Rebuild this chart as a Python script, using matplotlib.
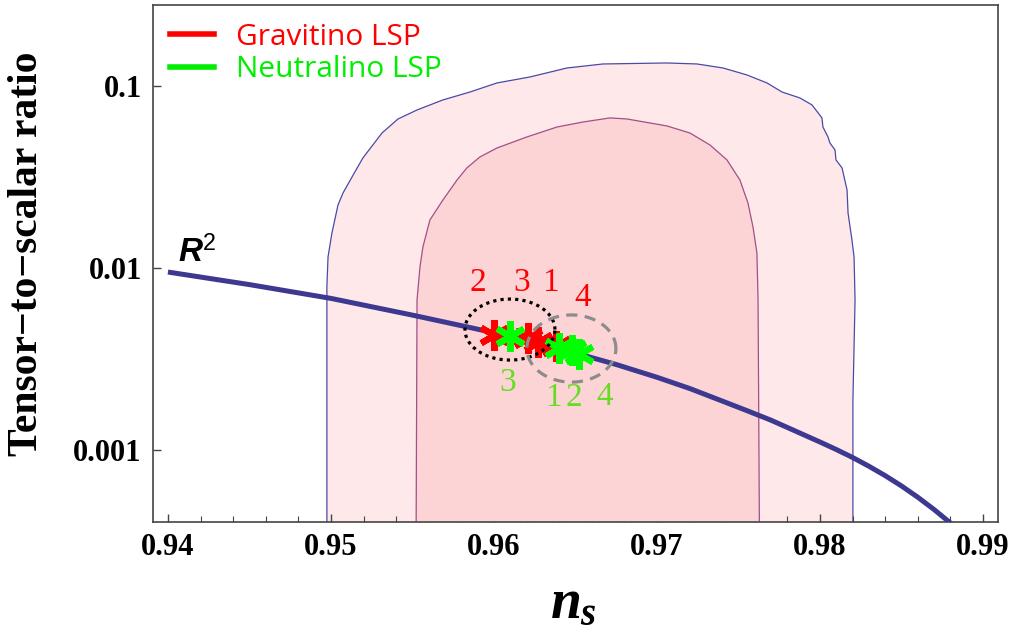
import numpy as np
import matplotlib.pyplot as plt
from matplotlib.lines import Line2D

# === DATI ===

# contorno esterno (95%)
outer_ns = [0.94975, 0.94975, 0.94982, 0.95006, 0.95043, 0.95074, 0.95129, 0.95196,
            0.95313, 0.95411, 0.95528, 0.95687, 0.95853, 0.96018, 0.96221, 0.96448,
            0.96669, 0.97061, 0.97245, 0.97405, 0.97552, 0.97675, 0.97767, 0.97877,
            0.97951, 0.98012, 0.98018, 0.98049, 0.98061, 0.98092, 0.98098, 0.98135,
            0.98166, 0.98172, 0.98196, 0.98209, 0.98215, 0.98202, 0.98202]
outer_r = [0.0001, 0.00786, 0.0115, 0.0156, 0.0222, 0.0259, 0.0317, 0.0404,
           0.0554, 0.0662, 0.0742, 0.0843, 0.0932, 0.1045, 0.1128, 0.1264,
           0.1330, 0.1347, 0.1330, 0.1264, 0.1157, 0.1045, 0.0932, 0.0864,
           0.0791, 0.0671, 0.0598, 0.0527, 0.0488, 0.0447, 0.0394, 0.0356,
           0.0269, 0.0201, 0.01427, 0.0115, 0.00666, 0.00187, 0.0001]

# contorno interno (68%)
inner_ns = [0.95520, 0.95528, 0.95546, 0.95564, 0.95607, 0.95687, 0.95773, 0.95834,
            0.95914, 0.96018, 0.96202, 0.96387, 0.96546, 0.96712, 0.96816, 0.97061,
            0.97202, 0.97325, 0.97429, 0.97509, 0.97558, 0.97589, 0.97613, 0.97620,
            0.97632]
inner_r = [0.0001, 0.00666, 0.01013, 0.01305, 0.01839, 0.0237, 0.0305, 0.0356,
           0.0409, 0.0458, 0.0527, 0.0598, 0.0637, 0.0671, 0.0662, 0.0606,
           0.0554, 0.0476, 0.0394, 0.0305, 0.0228, 0.01682, 0.0121, 0.00666,
           0.0001]

# curva R^2
r2_ns = [0.940, 0.945, 0.950, 0.955, 0.960, 0.965, 0.9675, 0.970, 0.972, 0.974,
         0.9755, 0.977, 0.980, 0.981, 0.982, 0.983, 0.984, 0.985, 0.986,
         0.987, 0.988, 0.989]
r2_r = [0.0095, 0.0081, 0.0068, 0.0055, 0.0044, 0.0034, 0.00294, 0.0025, 0.00217, 0.00185,
        0.00164, 0.00145, 0.00110, 0.00100, 0.000904, 0.000809, 0.000718, 0.000630, 0.000546,
        0.000467, 0.000394, 0.000327]

# punti: modelli 1..4
grav_ns = [0.9627, 0.9600, 0.9621, 0.9638]
grav_r = [0.00391, 0.00428, 0.00411, 0.00372]
neut_ns = [0.9640, 0.9648, 0.9610, 0.9652]
neut_r = [0.00362, 0.00353, 0.00422, 0.00336]

# etichette numeriche
num_labels = ['1', '2', '3', '4']
grav_lab_ns = [0.96344, 0.95902, 0.96172, 0.96546]
grav_lab_r = [0.00827, 0.00827, 0.00827, 0.00684]
neut_lab_ns = [0.96364, 0.96489, 0.96086, 0.96681]
neut_lab_r = [0.00192, 0.00192, 0.00232, 0.00195]

# ellissi: centro (ns, r), semiasse in ns, semiasse in decadi
ell_grav = (0.96098, 0.00458, 0.00276, 0.168)
ell_neut = (0.96475, 0.00360, 0.00273, 0.185)

# === FIGURA ===
plt.rcParams['mathtext.fontset'] = 'custom'
plt.rcParams['mathtext.it'] = 'Liberation Serif:italic:bold'
plt.rcParams['mathtext.rm'] = 'Liberation Sans'
plt.rcParams['mathtext.sf'] = 'Liberation Sans:italic:bold'

fig = plt.figure(figsize=(10.19, 6.32), dpi=100)
ax = fig.add_axes([0.1501, 0.1741, 0.8293, 0.818])

ax.fill(outer_ns, outer_r, facecolor='#fee8e9', edgecolor='#4a4aa8', lw=0.9, zorder=1)
ax.fill(inner_ns, inner_r, facecolor='#fdd4d6', edgecolor='#a0508a', lw=0.9, zorder=2)

ax.plot(r2_ns, r2_r, color='#3d3890', lw=3.6, solid_capstyle='butt', zorder=3)

ax.plot(grav_ns, grav_r, ls='none', marker=(6, 2, 0), ms=22, mew=4.5,
        color='#ff0000', zorder=4)
ax.plot(neut_ns, neut_r, ls='none', marker=(6, 2, 0), ms=22, mew=4.5,
        color='#00ff00', zorder=5)

t = np.linspace(0, 2 * np.pi, 300)
for (cx, cy, a, b), col, ls in [(ell_grav, 'black', (0, (1, 1.3))),
                               (ell_neut, '#8c8c8c', (0, (3.5, 2.3)))]:
    ex = cx + a * np.cos(t)
    ey = 10 ** (np.log10(cy) + b * np.sin(t))
    ax.plot(ex, ey, color=col, lw=2.3, ls=ls, zorder=6)

for lab, x, y in zip(num_labels, grav_lab_ns, grav_lab_r):
    ax.text(x, y, lab, color='#ff0000', fontsize=24, family='Liberation Serif',
            ha='center', va='center', zorder=7)
for lab, x, y in zip(num_labels, neut_lab_ns, neut_lab_r):
    ax.text(x, y, lab, color='#66dd22', fontsize=24, family='Liberation Serif',
            ha='center', va='center', zorder=7)

ax.text(0.94061, 0.0108, r'$\mathsf{R}^2$', fontsize=24, color='black',
        ha='left', va='baseline', zorder=7)

ax.set_yscale('log')
ax.set_xlim(0.93908, 0.99092)
ax.set_ylim(0.000399, 0.281)

ax.set_xticks([0.94, 0.95, 0.96, 0.97, 0.98, 0.99])
ax.set_xticklabels(['0.94', '0.95', '0.96', '0.97', '0.98', '0.99'])
ax.set_xticks(np.arange(0.94, 0.9901, 0.002), minor=True)
ax.set_yticks([0.001, 0.01, 0.1])
ax.set_yticklabels(['0.001', '0.01', '0.1'])
ax.yaxis.set_minor_locator(plt.NullLocator())

ax.tick_params(which='both', direction='in', top=False, right=False, color='#444444')
ax.tick_params(which='major', length=6, width=1, pad=8)
ax.tick_params(which='minor', length=4, width=0.8)
for lab in ax.get_xticklabels() + ax.get_yticklabels():
    lab.set_family('Liberation Serif')
    lab.set_weight('bold')
    lab.set_fontsize(22)

for sp in ax.spines.values():
    sp.set_color('#444444')
    sp.set_linewidth(1.2)

fig.text(27 / 1019, 1 - 254 / 632, 'Tensor\u2212to\u2212scalar ratio', rotation=90,
         family='Liberation Serif', weight='bold', fontsize=30, ha='center', va='center')
fig.text(573 / 1019, 1 - 603 / 632, r'$n_s$', fontsize=40, ha='center', va='center')

handles = [Line2D([], [], color='#ff0000', lw=4),
           Line2D([], [], color='#00ee00', lw=4)]
leg = ax.legend(handles, ['Gravitino LSP', 'Neutralino LSP'], loc='upper left',
                bbox_to_anchor=(0.004, 0.992), frameon=False,
                prop={'family': 'Open Sans', 'size': 21.5}, labelcolor=['#ff0000', '#00ee00'],
                handlelength=1.47, handletextpad=0.74, labelspacing=0.12,
                borderaxespad=0.15, borderpad=0.3)

fig.savefig('out.png', dpi=100)
